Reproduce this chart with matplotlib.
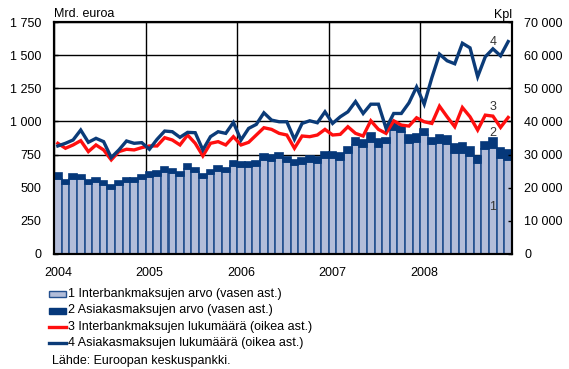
import numpy as np
import matplotlib
matplotlib.use("Agg")
import matplotlib.pyplot as plt
from matplotlib.patches import Rectangle
from matplotlib.lines import Line2D

plt.rcParams['font.family'] = ['Liberation Sans', 'DejaVu Sans']
plt.rcParams['font.size'] = 9

# Monthly data 2004-2008
years = ["2004", "2005", "2006", "2007", "2008"]

# 1 Interbank payments, value (bn EUR, left axis)
interbank_value = [566, 526, 566, 563, 528, 544, 520, 490, 523, 542, 543, 565,
                   583, 591, 618, 611, 587, 641, 615, 571, 601, 629, 615, 664,
                   653, 654, 663, 710, 701, 722, 696, 668, 676, 696, 689, 727,
                   727, 709, 759, 822, 810, 848, 810, 835, 935, 918, 839, 845,
                   894, 827, 835, 827, 759, 764, 737, 690, 790, 802, 722, 706]

# 2 Customer payments, value (bn EUR, left axis)
customer_value = [42, 30, 35, 33, 30, 33, 33, 28, 30, 33, 33, 32,
                  38, 35, 36, 32, 33, 38, 33, 32, 33, 35, 31, 40,
                  40, 37, 37, 45, 42, 42, 38, 42, 46, 43, 40, 45,
                  45, 50, 51, 51, 50, 62, 55, 38, 51, 50, 61, 63,
                  51, 51, 63, 63, 71, 71, 68, 50, 58, 71, 75, 81]

# 3 Interbank payments, count (thousands, right axis)
interbank_count = [33400, 31900, 32900, 34200, 30900, 32900, 31400, 28400, 30900, 31600, 31400, 32100,
                   32600, 32600, 35100, 34400, 32900, 35900, 33400, 29600, 33400, 33900, 32900, 35400,
                   32900, 33700, 35900, 38100, 37600, 36400, 35900, 31900, 35600, 35400, 35900, 37600,
                   35900, 36100, 38400, 36400, 35600, 40200, 37600, 36400, 40200, 38900, 38600, 41100,
                   39900, 39400, 44600, 41400, 38400, 44200, 41400, 37400, 41900, 41600, 38200, 41200]

# 4 Customer payments, count (thousands, right axis)
customer_count = [32600, 33400, 34400, 37400, 33700, 34900, 33900, 29100, 31400, 34100, 33400, 33600,
                  31600, 34600, 37100, 36900, 35200, 36700, 36600, 31400, 35400, 36900, 36400, 39700,
                  34400, 37900, 39100, 42600, 40400, 39900, 39900, 34600, 39400, 40200, 39600, 42900,
                  39400, 41400, 42900, 46000, 42400, 45200, 45200, 37900, 42400, 42400, 45600, 50400,
                  45200, 53200, 60300, 58300, 57400, 63600, 62200, 53500, 59500, 61900, 59800, 64100]

legend_labels = ["1 Interbankmaksujen arvo (vasen ast.)",
                 "2 Asiakasmaksujen arvo (vasen ast.)",
                 "3 Interbankmaksujen lukumäärä (oikea ast.)",
                 "4 Asiakasmaksujen lukumäärä (oikea ast.)"]
source_text = "Lähde: Euroopan keskuspankki."

LIGHT = '#b3bdd9'
EDGE = '#24508f'
DARK = '#06387a'
RED = '#ff0f0f'
BLUE = '#0b3b78'

W, H = 569, 369
fig = plt.figure(figsize=(W / 100, H / 100), dpi=100)
ax = fig.add_axes([54 / W, (H - 254) / H, 458 / W, 232 / H])
ax2 = ax.twinx()

n = len(interbank_value)
x = np.arange(n) + 0.5
s1 = np.array(interbank_value)
s2 = np.array(customer_value)

ax.set_axisbelow(True)
ax.bar(x, s1, width=1.0, color=LIGHT, edgecolor=EDGE, linewidth=1.2, zorder=2)
ax.bar(x, s2, bottom=s1, width=1.0, color=DARK, edgecolor=DARK, linewidth=1.2, zorder=2)

ax2.plot(x, interbank_count, color=RED, lw=2.4, solid_joinstyle='miter', zorder=3)
ax2.plot(x, customer_count, color=BLUE, lw=2.4, solid_joinstyle='miter', zorder=4)

ax.set_xlim(0, n)
ax.set_ylim(0, 1750)
ax2.set_ylim(0, 70000)

def spaced(v):
    return f"{int(v):,}".replace(",", " ")

lt = np.arange(0, 1751, 250)
ax.set_yticks(lt)
ax.set_yticklabels([spaced(v) for v in lt])
rt = np.arange(0, 70001, 10000)
ax2.set_yticks(rt)
ax2.set_yticklabels([spaced(v) for v in rt])

year_pos = np.arange(len(years)) * 12
ax.set_xticks(year_pos)
ax.set_xticklabels([])
ax.set_xticks(year_pos + 0.5, minor=True)
ax.set_xticklabels(years, minor=True)
ax.tick_params(axis='x', which='major', direction='in', length=3, width=1)
ax.tick_params(axis='x', which='minor', length=0, pad=9)
ax.tick_params(axis='y', direction='in', length=3, width=1, pad=9)
ax2.tick_params(axis='y', direction='in', length=3, width=1, pad=9)

ax.grid(True, which='major', color='black', lw=1.0)

for a in (ax, ax2):
    for s in a.spines.values():
        s.set_linewidth(1.5)
        s.set_color('black')

# series numbers next to the marks
for lbl, ypix in (("4", 42), ("3", 107), ("2", 133), ("1", 207)):
    ax.text((493 - 54) / 458, (254 - ypix) / 232, lbl, transform=ax.transAxes,
            ha='center', va='center', fontsize=9, color='#333333', zorder=6)

fig.text(54 / W, 1 - 14 / H, "Mrd. euroa", ha='left', va='center')
fig.text(512 / W, 1 - 15 / H, "Kpl", ha='right', va='center')

# legend below the plot
rows = [294, 310.5, 327, 343]
px0, pw = 49, 17
for i, (lbl, ry) in enumerate(zip(legend_labels, rows)):
    yf = 1 - ry / H
    if i < 2:
        fc = LIGHT if i == 0 else DARK
        fig.patches.append(Rectangle((px0 / W, yf - 3 / H), pw / W, 6 / H,
                                     transform=fig.transFigure, facecolor=fc,
                                     edgecolor=EDGE if i == 0 else DARK, lw=1.0))
    else:
        col = RED if i == 2 else BLUE
        fig.lines.append(Line2D([px0 / W, (px0 + pw) / W], [yf, yf],
                                transform=fig.transFigure, color=col, lw=2.4))
    fig.text(68 / W, yf, lbl, ha='left', va='center')

fig.text(52 / W, 1 - 361 / H, source_text, ha='left', va='center')

fig.savefig("out.png", dpi=100)
